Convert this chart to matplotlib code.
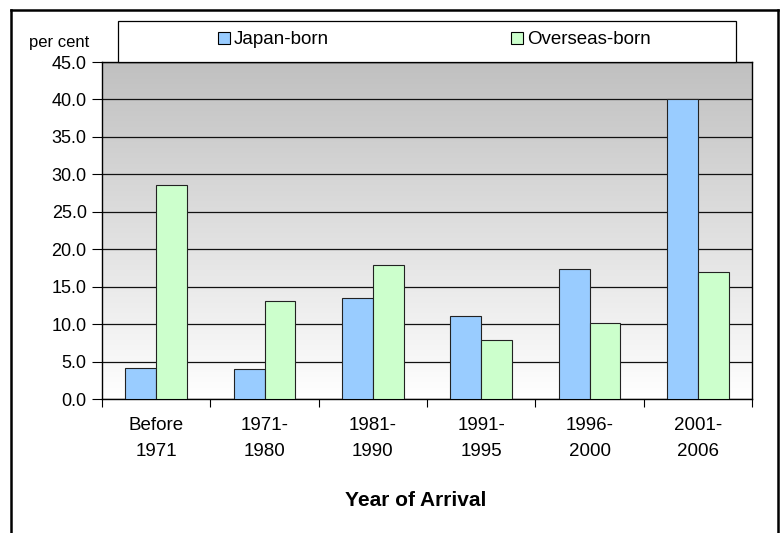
import numpy as np
import matplotlib
matplotlib.use('Agg')
import matplotlib.pyplot as plt
from matplotlib.patches import Rectangle, Patch
from matplotlib.lines import Line2D
from matplotlib.colors import LinearSegmentedColormap

plt.rcParams['font.family'] = ['Liberation Sans', 'DejaVu Sans']

categories = ['Before\n1971', '1971-\n1980', '1981-\n1990', '1991-\n1995', '1996-\n2000', '2001-\n2006']
japan_born = [4.2, 4.0, 13.5, 11.1, 17.4, 40.1]
overseas_born = [28.6, 13.1, 17.9, 7.9, 10.2, 17.0]
series_names = ['Japan-born', 'Overseas-born']
yticks = np.arange(0, 45.1, 5)

W, H = 782, 533
fig = plt.figure(figsize=(W / 100, H / 100), dpi=100)

# outer border (bottom edge is off the picture)
bx0, bx1, by = 11 / W, 777.5 / W, 1 - 9.5 / H
for xs, ys in [([bx0, bx0], [0, by]), ([bx1, bx1], [0, by]), ([bx0, bx1], [by, by])]:
    fig.add_artist(Line2D(xs, ys, color='black', lw=1.8, transform=fig.transFigure))

ax = fig.add_axes([102 / W, 1 - 399 / H, (752 - 102) / W, (399 - 62) / H])

# plot area: grey at the top fading to white
grad = np.linspace(0, 1, 256).reshape(-1, 1)
cmap = LinearSegmentedColormap.from_list('bg', ['#ffffff', '#c0c0c0'])
ax.imshow(grad, extent=[0, 1, 0, 1], transform=ax.transAxes, cmap=cmap,
          origin='lower', aspect='auto', zorder=0)

x = np.arange(len(categories))
bw = 0.285
ax.bar(x - bw / 2, japan_born, bw, color='#99ccff', edgecolor='#222222', linewidth=0.8, zorder=3)
ax.bar(x + bw / 2, overseas_born, bw, color='#ccffcc', edgecolor='#222222', linewidth=0.8, zorder=3)

ax.set_xlim(-0.5, len(categories) - 0.5)
ax.set_ylim(0, 45)
ax.set_yticks(yticks)
ax.set_yticklabels([f'{v:.1f}' for v in yticks], fontsize=13)
ax.yaxis.grid(True, color='#111111', lw=0.9, zorder=1)
ax.set_axisbelow(True)

ax.set_xticks(np.arange(len(categories) + 1) - 0.5)
ax.set_xticklabels([])
ax.set_xticks(x, minor=True)
ax.set_xticklabels(categories, minor=True, fontsize=13.5, linespacing=1.65)
ax.tick_params(axis='x', which='minor', length=0, pad=13)
ax.tick_params(axis='x', which='major', length=6, direction='out')
ax.tick_params(axis='y', length=7, direction='out', pad=4)
for s in ax.spines.values():
    s.set_color('black')
    s.set_linewidth(1.0)

fig.text(416 / W, 1 - 500 / H, 'Year of Arrival', fontsize=15, fontweight='bold', ha='center', va='center')
fig.text(89 / W, 1 - 42 / H, 'per cent', fontsize=12, va='center', ha='right')

# legend box
fig.add_artist(Rectangle((118 / W, 1 - 62 / H), (736 - 118) / W, 41.5 / H, transform=fig.transFigure,
                         facecolor='white', edgecolor='black', lw=0.9, zorder=5))
handles = [Patch(facecolor='#99ccff', edgecolor='black', lw=0.8),
           Patch(facecolor='#ccffcc', edgecolor='black', lw=0.8)]
leg = fig.legend(handles, series_names, loc='center left', bbox_to_anchor=(201 / W, 1 - 40 / H), ncol=2,
                 frameon=False, fontsize=13.5, handlelength=0.65, handleheight=0.65, handletextpad=0.2,
                 columnspacing=9.7)
leg.set_zorder(6)

fig.savefig('out.png', dpi=100)
